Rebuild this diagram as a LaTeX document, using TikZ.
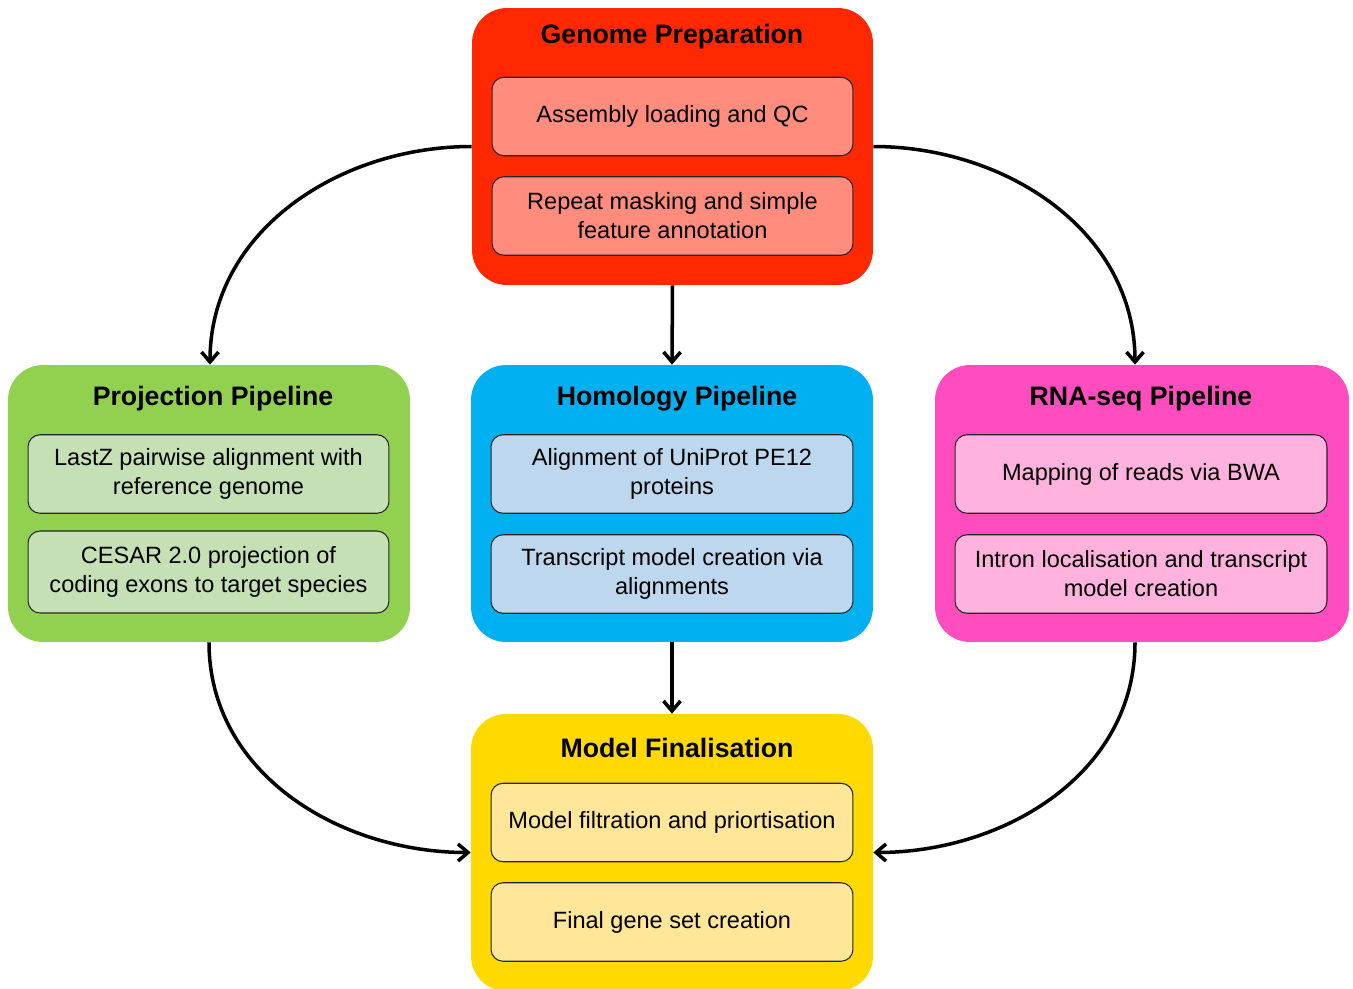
\documentclass[tikz,border=0pt]{standalone}
\usepackage{fontspec}
\setmainfont{Liberation Sans}
\usetikzlibrary{arrows.meta}

\definecolor{genred}{RGB}{255,40,0}
\definecolor{genlight}{RGB}{255,140,125}
\definecolor{projgreen}{RGB}{146,208,80}
\definecolor{projlight}{RGB}{197,224,180}
\definecolor{homblue}{RGB}{0,176,240}
\definecolor{homlight}{RGB}{189,215,238}
\definecolor{rnapink}{RGB}{255,76,190}
\definecolor{rnalight}{RGB}{255,178,222}
\definecolor{finyellow}{RGB}{255,217,0}
\definecolor{finlight}{RGB}{255,230,153}

\tikzset{
  stage/.style = {rounded corners = 0.7cm, minimum height = 5.54cm, inner sep = 0pt},
  stagetitle/.style = {font = \fontsize{15.2}{18}\selectfont\bfseries},
  task/.style = {draw = black!85, line width = 0.6pt, rounded corners = 0.24cm,
    minimum height = 1.57cm, inner sep = 0pt, align = center,
    font = \fontsize{13.4}{16.5}\selectfont},
  flow/.style = {black, line width = 2pt, -{Straight Barb[length = 2mm, width = 3.4mm, line width = 2pt]}}
}

\begin{document}
\begin{tikzpicture} [x = 0.02cm, y = -0.02cm]
\useasboundingbox (0, 0) rectangle (1353, 988);
% stages
\node[stage, fill = genred, minimum width = 8.02cm] (gen) at (672.5, 146.5) {};
\node[stage, fill = projgreen, minimum width = 8.04cm] (proj) at (209, 503.5) {};
\node[stage, fill = homblue, minimum width = 8.04cm] (hom) at (672, 503.5) {};
\node[stage, fill = rnapink, minimum width = 8.28cm] (rna) at (1142, 503.5) {};
\node[stage, fill = finyellow, minimum width = 8.04cm] (fin) at (672, 852.5) {};
% titles
\node[stagetitle] (gentitle) at (672, 37) {Genome Preparation};
\node[stagetitle] (projtitle) at (213, 399) {Projection Pipeline};
\node[stagetitle] (homtitle) at (677, 399) {Homology Pipeline};
\node[stagetitle] (rnatitle) at (1141, 399) {RNA-seq Pipeline};
\node[stagetitle] (fintitle) at (677, 748) {Model Finalisation};
% tasks
\node[task, fill = genlight, minimum width = 7.22cm] (gen1) at (672.5, 116.5) {Assembly loading and QC};
\node[task, fill = genlight, minimum width = 7.22cm] (gen2) at (672.5, 216) {Repeat masking and simple\\feature annotation};
\node[task, fill = projlight, minimum width = 7.22cm] (proj1) at (208.5, 474) {LastZ pairwise alignment with\\reference genome};
\node[task, fill = projlight, minimum width = 7.22cm, minimum height = 1.64cm] (proj2) at (208.5, 572) {CESAR 2.0 projection of\\coding exons to target species};
\node[task, fill = homlight, minimum width = 7.24cm] (hom1) at (672, 474) {Alignment of UniProt PE12\\proteins};
\node[task, fill = homlight, minimum width = 7.24cm] (hom2) at (672, 574) {Transcript model creation via\\alignments};
\node[task, fill = rnalight, minimum width = 7.44cm] (rna1) at (1141, 474) {Mapping of reads via BWA};
\node[task, fill = rnalight, minimum width = 7.44cm] (rna2) at (1141, 574) {Intron localisation and transcript\\model creation};
\node[task, fill = finlight, minimum width = 7.24cm] (fin1) at (672, 822.5) {Model filtration and priortisation};
\node[task, fill = finlight, minimum width = 7.24cm] (fin2) at (672, 922) {Final gene set creation};
% connectors
\draw[flow] (gen.west) to[out = 180, in = 90] ([xshift = 0.02cm]proj.north);
\draw[flow] (gen.east) to[out = 0, in = 90] ([xshift = -0.14cm]rna.north);
\draw[flow] (gen.south) -- (hom.north);
\draw[flow] (hom.south) -- (fin.north);
\draw[flow] (proj.south) to[out = -90, in = 180] (fin.west);
\draw[flow] ([xshift = -0.14cm]rna.south) to[out = -90, in = 0] (fin.east);
\end{tikzpicture}
\end{document}
